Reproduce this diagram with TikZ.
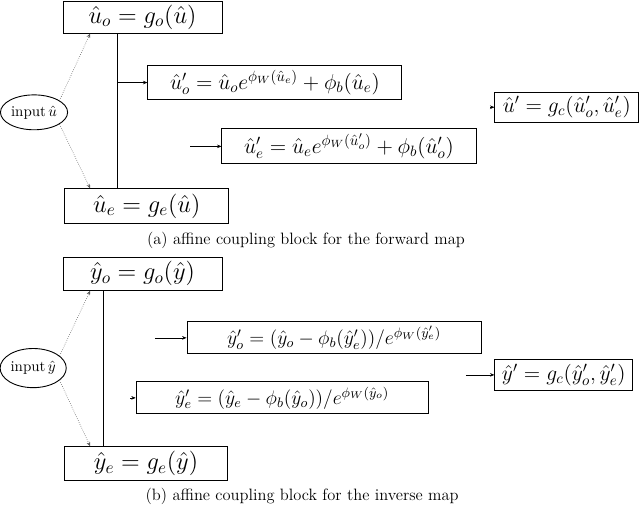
\RequirePackage{fix-cm}
\documentclass[tikz,border=0pt]{standalone}
\usetikzlibrary{arrows.meta,shapes.geometric}
\usepackage{amsmath}

\begin{document}
\begin{tikzpicture}[line width=0.6pt,>=Stealth,
  blk/.style={draw,inner sep=1pt,font=\fontsize{16.4}{19}\selectfont},
  mblk/.style={draw,inner sep=1pt,font=\fontsize{14.4}{17}\selectfont},
  sblk/.style={draw,inner sep=1pt,font=\fontsize{13.1}{15}\selectfont},
  inp/.style={draw,ellipse,inner sep=0.5pt},
  captext/.style={font=\fontsize{11}{13}\selectfont},
  feed/.style={->,densely dotted,line width=0.4pt,gray!70!black,
    >={Stealth[length=3pt,width=2.4pt]}},
  tip/.style={->,line width=0.4pt,>={Stealth[length=3pt,width=2.4pt]}}]
\useasboundingbox (0,0) rectangle (15.04,12.48);
% (a) forward map
\node[blk,minimum width=3.74cm,minimum height=0.75cm] (uo) at (3.35,12.08) {$\hat{u}_o=g_o(\hat{u})$};
\node[blk,minimum width=3.85cm,minimum height=0.80cm] (ue) at (3.45,7.64) {$\hat{u}_e=g_e(\hat{u})$};
\node[inp,minimum width=1.5cm,minimum height=0.82cm] (ui) at (0.80,9.84) {input\,$\hat{u}$};
\node[mblk,minimum width=5.97cm,minimum height=0.78cm] (uop) at (6.46,10.54)
  {$\hat{u}_o'=\hat{u}_oe^{\phi_W(\hat{u}_e)}+\phi_b(\hat{u}_e)$};
\node[mblk,minimum width=5.97cm,minimum height=0.82cm] (uep) at (8.20,9.04)
  {$\hat{u}_e'=\hat{u}_ee^{\phi_W(\hat{u}_o')}+\phi_b(\hat{u}_o')$};
\node[mblk,minimum width=3.38cm,minimum height=0.71cm] (uc) at (13.32,9.96)
  {$\hat{u}'=g_c(\hat{u}_o',\hat{u}_e')$};
\coordinate (ut) at (2.75,0 |- uo.south);
\coordinate (ub) at (2.75,0 |- ue.north);
\draw (ut) -- (ub);
\draw[tip] (ut |- uop.west) -- (uop.west);
\coordinate (uin) at (4.47,0 |- uep.west);
\draw[tip] (uin) -- (uep.west);
\coordinate (ucin) at (11.52,0 |- uc.west);
\draw[tip] (ucin) -- (uc.west);
\draw[feed] (ui.25) -- (2.12,0 |- uo.south);
\draw[feed] (ui.-25) -- (2.12,0 |- ue.north);
\node[captext] (capa) at (7.19,6.82) {(a) affine coupling block for the forward map};
% (b) inverse map
\node[blk,minimum width=3.74cm,minimum height=0.78cm] (yo) at (3.35,6.05) {$\hat{y}_o=g_o(\hat{y})$};
\node[blk,minimum width=3.85cm,minimum height=0.78cm] (ye) at (3.43,1.59) {$\hat{y}_e=g_e(\hat{y})$};
\node[inp,minimum width=1.55cm,minimum height=0.92cm] (yi) at (0.78,3.83) {input\,$\hat{y}$};
\node[sblk,minimum width=6.91cm,minimum height=0.75cm] (yop) at (7.85,4.54)
  {$\hat{y}_o'=(\hat{y}_o-\phi_b(\hat{y}_e'))/e^{\phi_W(\hat{y}_e')}$};
\node[sblk,minimum width=6.86cm,minimum height=0.75cm] (yep) at (6.63,3.13)
  {$\hat{y}_e'=(\hat{y}_e-\phi_b(\hat{y}_o))/e^{\phi_W(\hat{y}_o)}$};
\node[mblk,minimum width=3.24cm,minimum height=0.71cm] (yc) at (13.25,3.67)
  {$\hat{y}'=g_c(\hat{y}_o',\hat{y}_e')$};
\coordinate (yt) at (2.42,0 |- yo.south);
\coordinate (yb) at (2.42,0 |- ye.north);
\draw (yt) -- (yb);
\coordinate (yin) at (3.64,0 |- yop.west);
\draw[tip] (yin) -- (yop.west);
\coordinate (yein) at (3.06,0 |- yep.west);
\draw[tip] (yein) -- (yep.west);
\coordinate (ycin) at (10.95,0 |- yc.west);
\draw[tip] (ycin) -- (yc.west);
\draw[feed] (yi.25) -- (2.12,0 |- yo.south);
\draw[feed] (yi.-25) -- (2.12,0 |- ye.north);
\node[captext] (capb) at (7.10,0.82) {(b) affine coupling block for the inverse map};
\end{tikzpicture}
\end{document}
